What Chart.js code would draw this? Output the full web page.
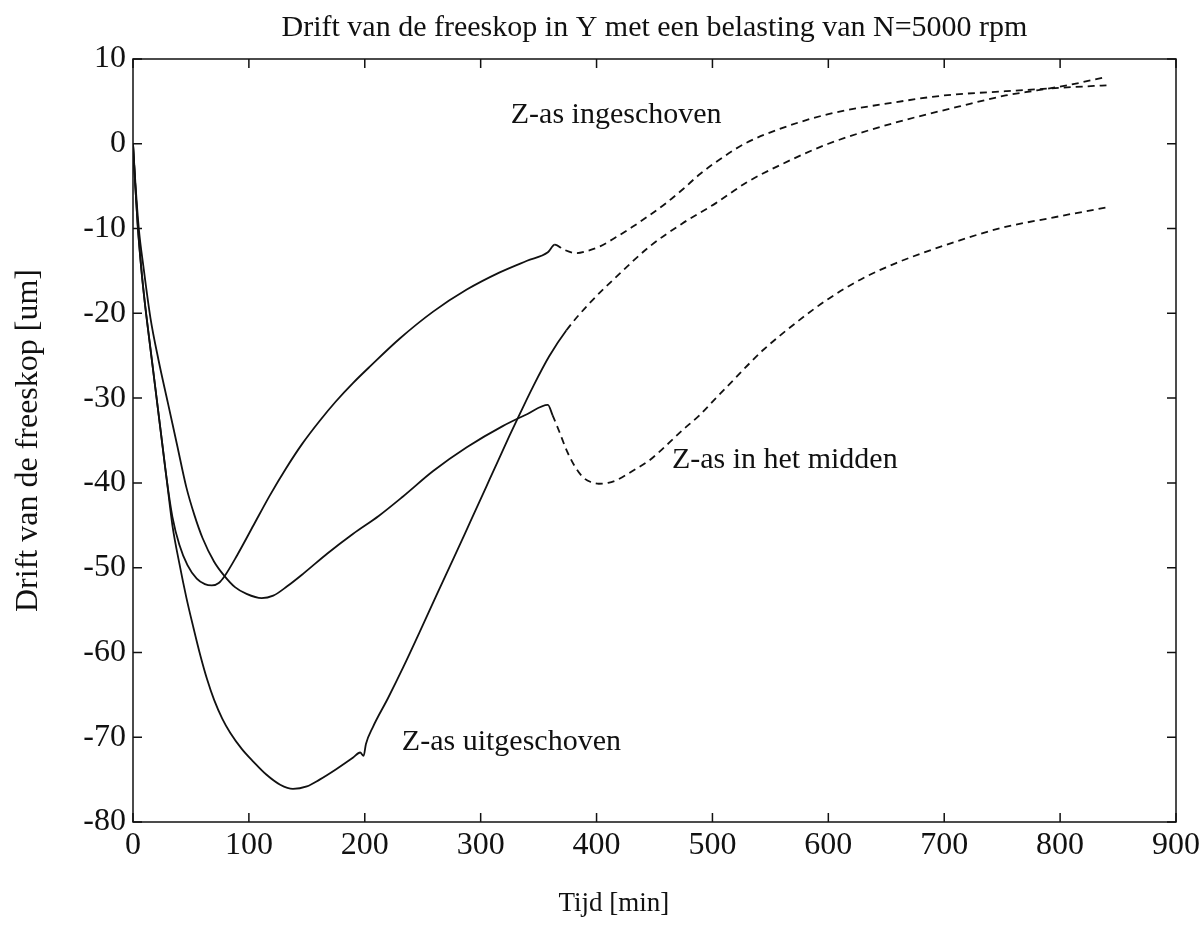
<!DOCTYPE html>
<html>
<head>
<meta charset="utf-8">
<script src="https://cdn.jsdelivr.net/npm/chart.js@4.4.1/dist/chart.umd.min.js"></script>
<style>
  html, body { margin: 0; padding: 0; background: #fff; }
  #wrap { width: 1204px; height: 927px; position: relative; }
</style>
</head>
<body>
<div id="wrap"><canvas id="chart"></canvas></div>
<script>
// tick labels
const xTicks = [0, 100, 200, 300, 400, 500, 600, 700, 800, 900];
const yTicks = [-80, -70, -60, -50, -40, -30, -20, -10, 0, 10];

// Z-as ingeschoven
const tIn = [0, 2, 4, 7, 10, 14, 19, 24, 29, 34, 40, 47, 55, 62, 68, 74, 79, 90, 104, 118, 132, 146, 161, 175, 190, 205, 230, 259, 288, 316, 340, 358, 364, 372, 383, 393, 403, 417, 431, 446, 460, 475, 489, 510, 529, 557, 600, 658, 700, 753, 800, 840];
const dIn = [0, -5, -9.5, -14.5, -18.5, -23, -28.5, -34, -39.5, -44, -47.3, -49.7, -51.3, -51.95, -52.1, -51.8, -51, -48.5, -45, -41.5, -38.3, -35.4, -32.7, -30.4, -28.2, -26.2, -23, -19.8, -17.2, -15.2, -13.8, -12.8, -11.9, -12.5, -12.9, -12.6, -12.1, -11, -9.8, -8.4, -7, -5.3, -3.6, -1.5, 0.1, 1.7, 3.5, 4.9, 5.7, 6.2, 6.6, 6.9];

// Z-as in het midden
const tMid = [0, 2, 5, 9, 15, 22, 30, 38, 46, 53, 60, 70, 79, 88, 98, 111, 121, 133, 147, 168, 190, 212, 233, 259, 288, 319, 340, 358, 362, 368, 374, 381, 388, 395, 402, 410, 417, 431, 446, 460, 474, 489, 503, 520, 532, 544, 575, 600, 628, 658, 700, 750, 790, 840];
const dMid = [0, -4.5, -10, -14.5, -20.5, -25.5, -30.5, -35.5, -40.5, -43.8, -46.5, -49.3, -51, -52.3, -53.1, -53.6, -53.3, -52.2, -50.7, -48.3, -46, -43.9, -41.6, -38.6, -35.8, -33.3, -31.9, -30.8, -32, -34, -36.1, -38, -39.3, -39.9, -40.1, -40, -39.7, -38.6, -37.3, -35.6, -33.8, -32, -30, -27.6, -25.9, -24.3, -20.8, -18.3, -16, -14.1, -12, -9.9, -8.8, -7.5];

// Z-as uitgeschoven
const tOut = [0, 2, 4, 7, 10, 14, 19, 24, 29, 34, 40, 46, 52, 58, 64, 70, 77, 84, 94, 104, 115, 127, 138, 150, 161, 175, 190, 196, 199, 201, 207, 220, 233, 248, 262, 277, 291, 305, 315, 325, 334, 345, 359, 374, 394, 417, 446, 474, 503, 529, 557, 600, 658, 713, 753, 780, 810, 840];
const dOut = [0, -5, -9.5, -14.5, -18.5, -23, -28.5, -34, -39.5, -45, -49.5, -53.5, -57, -60.3, -63.2, -65.6, -67.8, -69.5, -71.4, -72.9, -74.4, -75.6, -76.1, -75.8, -75.0, -73.8, -72.4, -71.8, -72.2, -70.8, -68.8, -65.4, -61.8, -57.4, -53.2, -48.8, -44.6, -40.4, -37.4, -34.4, -31.8, -28.7, -25.1, -22, -18.8, -15.7, -12.1, -9.4, -7, -4.6, -2.6, 0, 2.5, 4.4, 5.7, 6.3, 7.0, 7.9];

const labelTexts = ['Z-as ingeschoven', 'Z-as in het midden', 'Z-as uitgeschoven'];

const FONT = '"Liberation Serif", "Times New Roman", serif';
const INK = '#111';
const SWITCH_T = 360; // after this the measurement is drawn dashed

const toPoints = (t, d) => t.map((v, i) => ({ x: v, y: d[i] }));

const lineStyle = {
  borderColor: INK,
  borderWidth: 1.8,
  pointRadius: 0,
  pointHoverRadius: 0,
  fill: false,
  cubicInterpolationMode: 'monotone',
  segment: {
    borderDash: ctx => ctx.p0.parsed.x >= SWITCH_T ? [7, 5] : undefined
  }
};

// box, inward ticks and the curve labels
const framePlugin = {
  id: 'frame',
  afterDraw(chart) {
    const { ctx, chartArea: a, scales: { x, y } } = chart;
    ctx.save();
    ctx.strokeStyle = INK;
    ctx.lineWidth = 1.5;
    ctx.strokeRect(a.left, a.top, a.width, a.height);
    ctx.beginPath();
    x.ticks.forEach(t => {
      const px = x.getPixelForValue(t.value);
      ctx.moveTo(px, a.bottom); ctx.lineTo(px, a.bottom - 9);
      ctx.moveTo(px, a.top); ctx.lineTo(px, a.top + 9);
    });
    y.ticks.forEach(t => {
      const py = y.getPixelForValue(t.value);
      ctx.moveTo(a.left, py); ctx.lineTo(a.left + 9, py);
      ctx.moveTo(a.right, py); ctx.lineTo(a.right - 9, py);
    });
    ctx.stroke();

    ctx.fillStyle = INK;
    ctx.font = '30px ' + FONT;
    ctx.textAlign = 'left';
    ctx.textBaseline = 'middle';
    const spots = [[326, 3.4], [465, -37.3], [232, -70.6]];
    labelTexts.forEach((txt, i) => {
      ctx.fillText(txt, x.getPixelForValue(spots[i][0]), y.getPixelForValue(spots[i][1]));
    });

    // x axis title sits a bit left of centre in the original
    ctx.font = '27px ' + FONT;
    ctx.textAlign = 'center';
    ctx.fillText('Tijd [min]', x.getPixelForValue(415), 904);
    ctx.restore();
  }
};

new Chart(document.getElementById('chart'), {
  type: 'line',
  data: {
    datasets: [
      { label: labelTexts[0], data: toPoints(tIn, dIn), ...lineStyle },
      { label: labelTexts[1], data: toPoints(tMid, dMid), ...lineStyle },
      { label: labelTexts[2], data: toPoints(tOut, dOut), ...lineStyle }
    ]
  },
  options: {
    responsive: true,
    maintainAspectRatio: false,
    animation: false,
    layout: { padding: { left: 0, right: 27, top: 0, bottom: 0 } },
    plugins: {
      legend: { display: false },
      tooltip: { enabled: false },
      title: {
        display: true,
        fullSize: false,
        text: 'Drift van de freeskop in Y met een belasting van N=5000 rpm',
        color: INK,
        font: { family: FONT, size: 30, weight: 'normal' },
        padding: { top: 10, bottom: 13 }
      }
    },
    scales: {
      x: {
        type: 'linear',
        min: xTicks[0],
        max: xTicks[xTicks.length - 1],
        afterBuildTicks: s => { s.ticks = xTicks.map(v => ({ value: v })); },
        afterFit: s => { s.height = 105; },
        grid: { display: false, drawTicks: false },
        border: { display: false },
        ticks: { color: INK, padding: 4, maxRotation: 0, font: { family: FONT, size: 32 } }
      },
      y: {
        type: 'linear',
        min: yTicks[0],
        max: yTicks[yTicks.length - 1],
        afterBuildTicks: s => { s.ticks = yTicks.map(v => ({ value: v })); },
        afterFit: s => { s.width = 133; },
        grid: { display: false, drawTicks: false },
        border: { display: false },
        ticks: { color: INK, padding: 7, font: { family: FONT, size: 32 } },
        title: {
          display: true,
          text: 'Drift van de freeskop [um]',
          color: INK,
          font: { family: FONT, size: 32 },
          padding: { top: 9, bottom: 0 }
        }
      }
    }
  },
  plugins: [framePlugin]
});
</script>
</body>
</html>
